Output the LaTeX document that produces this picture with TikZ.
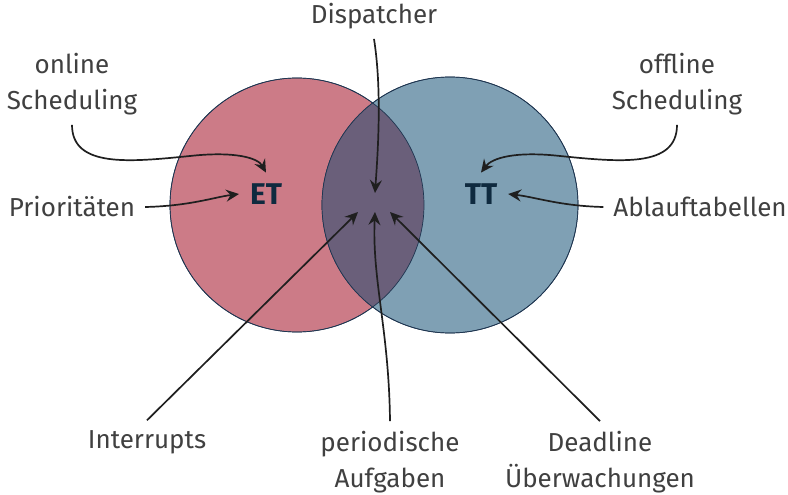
\documentclass[tikz,border=0pt]{standalone}
\usepackage{fontspec}
\setmainfont{Fira Sans}
\usetikzlibrary{positioning,arrows.meta}

\definecolor{etred}{HTML}{CC7B87}
\definecolor{ttblue}{HTML}{7FA0B4}
\definecolor{bothpurple}{HTML}{6A5F7A}
\definecolor{edgenavy}{HTML}{1E3550}
\definecolor{namenavy}{HTML}{0F2A3F}
\definecolor{textgray}{HTML}{404040}

\tikzset{
	lbl/.style={text=textgray, font=\fontsize{26}{36}\selectfont, align=center, inner sep=0pt, outer sep=10pt},
	setname/.style={text=namenavy, font=\fontsize{30}{34}\selectfont\bfseries, inner sep=0pt, outer sep=11pt},
	pointer/.style={-{Stealth[length=13pt, width=12pt, inset=4.5pt]}, line width=1.7pt, draw=black!88},
}

\begin{document}
\begin{tikzpicture}[x=1pt, y=-1pt]
			\useasboundingbox (0,0) rectangle (788,495);
			% the two sets and their overlap
			\draw [fill=etred, draw=edgenavy, line width=0.7pt] (297,205) circle (127pt);
			\draw [fill=ttblue, draw=edgenavy, line width=0.7pt] (450,205) circle (128pt);
			\begin{scope}
				\clip (297,205) circle (127pt);
				\fill [bothpurple] (450,205) circle (128pt);
			\end{scope}
			\draw [draw=edgenavy, line width=0.7pt] (297,205) circle (127pt);
			\draw [draw=edgenavy, line width=0.7pt] (450,205) circle (128pt);
			\node [setname] (et) at (266,194) {ET};
			\node [setname] (tt) at (481,194) {TT};
			% labels
			\node [lbl] (dispatcher) at (374,16) {Dispatcher};
			\node [lbl] (online) at (72,84) {online\\Scheduling};
			\node [lbl] (prio) at (72,207) {Prioritäten};
			\node [lbl] (offline) at (677,84) {offline\\Scheduling};
			\node [lbl] (tables) at (700,207) {Ablauftabellen};
			\node [lbl] (irq) at (147,442) {Interrupts};
			\node [lbl] (periodic) at (390,462) {periodische\\Aufgaben};
			\node [lbl] (deadline) at (600,462) {Deadline\\Überwachungen};
			% ends inside the overlap
			\coordinate (dsp in) at (375,193);
			\coordinate (irq in) at (358,212);
			\coordinate (per in) at (375,212);
			\coordinate (dl in) at (390,212);
			% connectors
			\draw [pointer] (online.south) .. controls (72,168) and (130,162) .. (190,156) .. controls (235,151) and (258,158) .. (et.north);
			\draw [pointer] (prio.east) .. controls (190,206) and (215,197) .. (et.west);
			\draw [pointer] (offline.south) .. controls (677,168) and (620,162) .. (560,156) .. controls (515,151) and (492,158) .. (tt.north);
			\draw [pointer] (tables.west) .. controls (560,206) and (535,197) .. (tt.east);
			\draw [pointer] (dispatcher.south) .. controls (382,90) and (378,150) .. (dsp in);
			\draw [pointer] (irq.north) -- (irq in);
			\draw [pointer] (periodic.north) .. controls (389,330) and (372,280) .. (per in);
			\draw [pointer] (deadline.north) -- (dl in);
\end{tikzpicture}
\end{document}
